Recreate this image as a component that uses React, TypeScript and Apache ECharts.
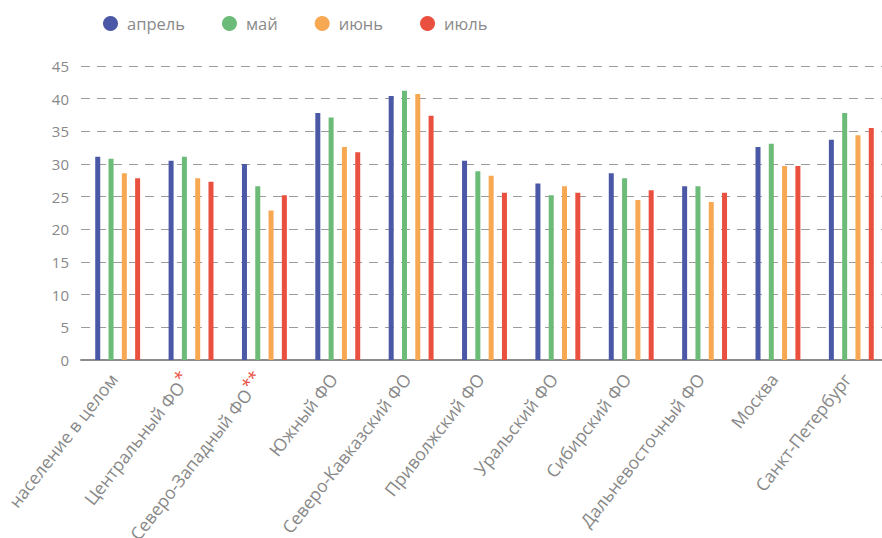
import React, { useEffect, useRef } from "react";
import * as echarts from "echarts";

const categories = [
  "население в целом",
  "Центральный ФО",
  "Северо-Западный ФО",
  "Южный ФО",
  "Северо-Кавказский ФО",
  "Приволжский ФО",
  "Уральский ФО",
  "Сибирский ФО",
  "Дальневосточный ФО",
  "Москва",
  "Санкт-Петербург",
];
const footnotes = ["", "*", "**", "", "", "", "", "", "", "", ""];

const seriesNames = ["апрель", "май", "июнь", "июль"];
const april = [31.1, 30.5, 30.0, 37.8, 40.4, 30.5, 27.0, 28.6, 26.6, 32.6, 33.7];
const may = [30.8, 31.1, 26.6, 37.1, 41.2, 28.9, 25.2, 27.8, 26.6, 33.1, 37.8];
const june = [28.6, 27.8, 22.9, 32.6, 40.7, 28.2, 26.6, 24.5, 24.2, 29.7, 34.4];
const july = [27.8, 27.3, 25.2, 31.8, 37.4, 25.6, 25.6, 26.0, 25.6, 29.7, 35.5];
const colors = ["#4B58A5", "#6DBB78", "#F6A852", "#E9503F"];

const FONT = "'Open Sans', 'Noto Sans', sans-serif";

export default function App() {
  const ref = useRef<HTMLDivElement>(null);
  useEffect(() => {
    if (!ref.current) return;
    const chart = echarts.init(ref.current, undefined, { renderer: "svg" });
    const values = [april, may, june, july];
    chart.setOption({
      animation: false,
      color: colors,
      textStyle: { fontFamily: FONT },
      legend: {
        left: 103,
        top: 15,
        padding: 0,
        icon: "circle",
        itemWidth: 15,
        itemHeight: 15,
        itemGap: 37,
        textStyle: { fontSize: 16.5, color: "#8a8a8a", fontFamily: FONT, padding: [0, 0, 0, 4] },
        data: seriesNames,
      },
      grid: {
        left: 81,
        top: 66,
        width: 807,
        height: 294,
        containLabel: false,
        outerBoundsMode: "none",
      },
      xAxis: {
        type: "category",
        data: categories,
        axisLine: { lineStyle: { color: "#8c8c8c", width: 2 } },
        axisTick: { show: false },
        axisLabel: {
          rotate: 52,
          interval: 0,
          fontSize: 17.5,
          color: "#888",
          fontFamily: FONT,
          margin: 10,
          padding: [0, 7, 0, 0],
          formatter: (v: string, i: number) =>
            footnotes[i] ? `${v}{s|${footnotes[i]}}` : v,
          rich: {
            s: { color: "#E9503F", fontSize: 17, padding: [0, 0, 9, 1], fontFamily: FONT },
          },
        },
      },
      yAxis: {
        type: "value",
        min: 0,
        max: 45,
        interval: 5,
        axisLine: { show: false },
        axisTick: { show: false },
        axisLabel: { fontSize: 15, color: "#888", margin: 12, fontFamily: FONT },
        splitLine: { lineStyle: { color: "#9a9a9a", type: [9, 7], width: 1 } },
      },
      series: seriesNames.map((n, k) => ({
        name: n,
        type: "bar",
        data: values[k],
        barWidth: 5,
        barGap: "166%",
        itemStyle: { color: colors[k] },
      })),
    });
    return () => chart.dispose();
  }, []);
  return (
    <div
      ref={ref}
      style={{ position: "absolute", left: 0, top: 0, width: 882, height: 538, background: "#fff" }}
    />
  );
}
